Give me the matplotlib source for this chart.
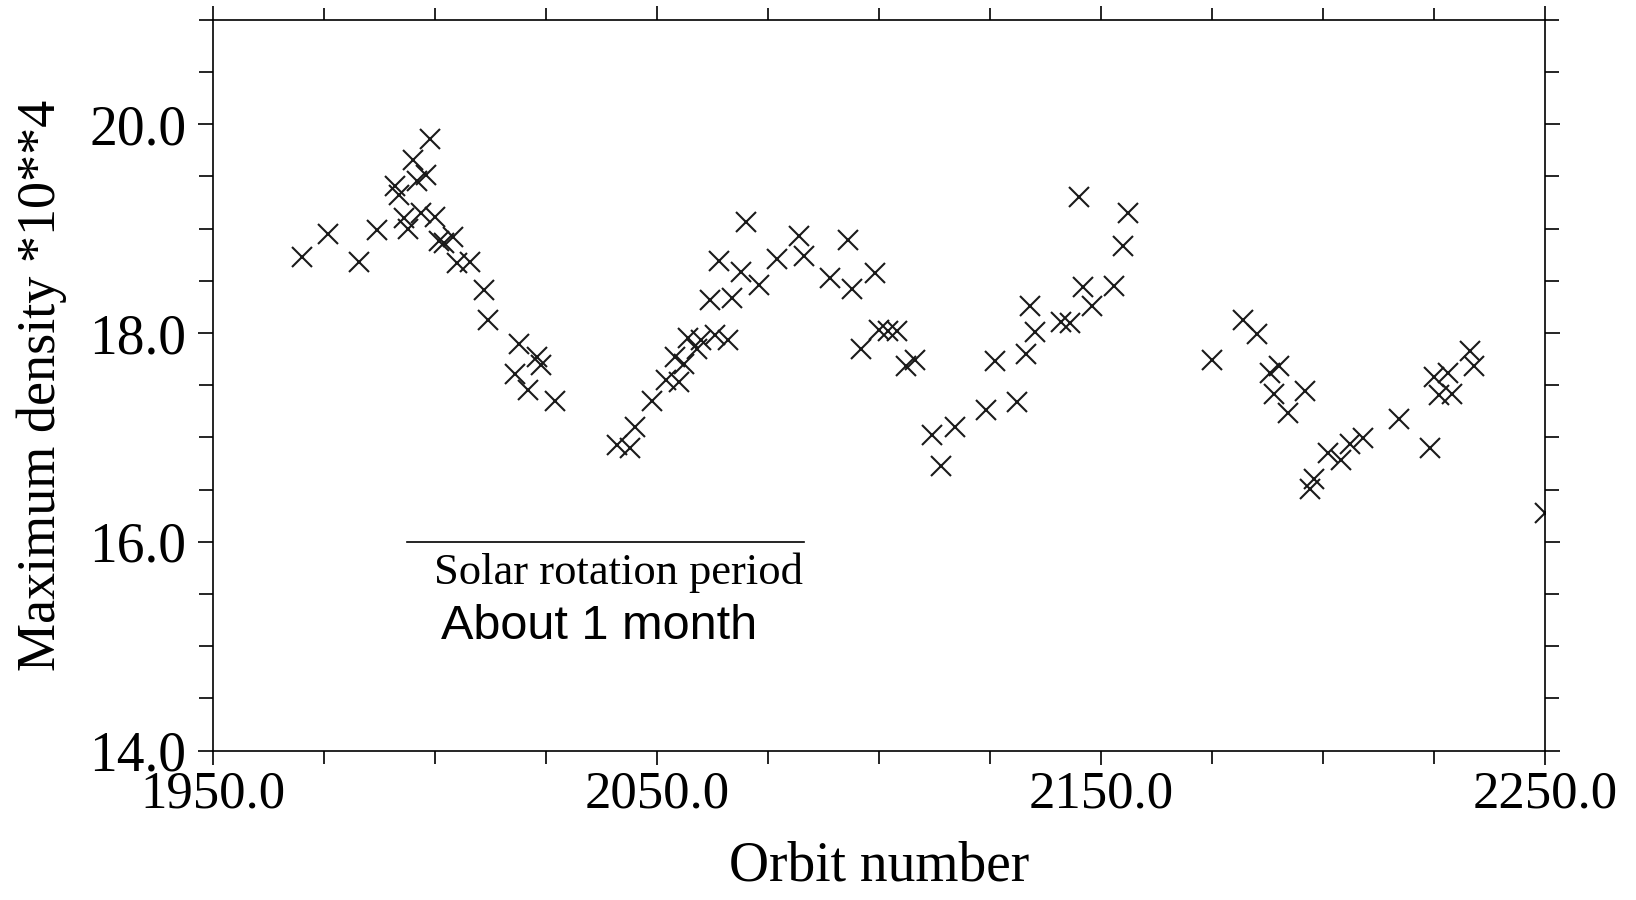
import matplotlib
matplotlib.use("Agg")
import matplotlib.pyplot as plt
from matplotlib.ticker import FixedLocator, MultipleLocator, FormatStrFormatter

# orbit numbers and maximum density (*10**4)
orbit = [1970, 1976, 1983, 1987, 1991, 1992, 1993, 1994, 1995, 1996, 1997, 1998,
         1999, 2000, 2001, 2002, 2004, 2005, 2008, 2011, 2012, 2018, 2019, 2021,
         2023, 2024, 2027,
         2041, 2044, 2045, 2049, 2052, 2054, 2055, 2056, 2057, 2059, 2060, 2062,
         2063, 2064, 2066, 2067, 2069, 2070, 2073, 2077, 2082, 2083, 2089, 2093,
         2094, 2096, 2099, 2100, 2102, 2104, 2106, 2108,
         2112, 2114, 2117, 2124, 2126, 2131, 2133, 2134, 2135, 2141, 2143, 2145,
         2146, 2148, 2153, 2155, 2156,
         2175, 2182, 2185, 2188, 2189, 2190, 2192, 2196, 2197, 2198, 2201, 2204,
         2206, 2209, 2217, 2224, 2225, 2226, 2228, 2229, 2233, 2234, 2250]
density = [18.73, 18.95, 18.68, 18.99, 19.41, 19.32, 19.10, 19.00, 19.66, 19.46, 19.15, 19.51,
           19.86, 19.11, 18.88, 18.86, 18.92, 18.67, 18.68, 18.41, 18.12, 17.61, 17.89, 17.45,
           17.77, 17.69, 17.35,
           16.93, 16.90, 17.10, 17.35, 17.55, 17.77, 17.53, 17.70, 17.95, 17.85, 17.93, 18.32,
           17.98, 18.69, 17.93, 18.34, 18.58, 19.06, 18.46, 18.71, 18.93, 18.74, 18.53, 18.89,
           18.42, 17.85, 18.57, 18.03, 18.02, 18.02, 17.68, 17.74,
           17.02, 16.73, 17.10, 17.26, 17.73, 17.34, 17.80, 18.26, 18.01, 18.11, 18.10, 19.30,
           18.44, 18.26, 18.45, 18.83, 19.15,
           17.74, 18.12, 17.99, 17.62, 17.42, 17.68, 17.23, 17.44, 16.51, 16.60, 16.85, 16.78,
           16.94, 16.99, 17.18, 16.90, 17.58, 17.41, 17.62, 17.42, 17.83, 17.68, 16.28]

x_labelled = [1950, 2050, 2150, 2250]
y_labelled = [14.0, 16.0, 18.0, 20.0]

# solar rotation bar (orbit range) drawn at density 16.0
rotation_span = [1993.7, 2083.0]
rotation_level = [16.0, 16.0]

serif = ["Liberation Serif", "DejaVu Serif"]

fig = plt.figure(figsize=(16.36, 9), dpi=100)
ax = fig.add_axes([0.130, 0.166, 0.8146, 0.812])

ax.plot(orbit, density, linestyle="none", marker="x", markersize=14,
        markeredgewidth=1.5, color="#1a1a1a")

ax.plot(rotation_span, rotation_level, color="black", linewidth=1.2)
ax.text(2041.3, 15.70, "Solar rotation period", family=serif, fontsize=32,
        ha="center", va="center")
ax.text(2037.0, 15.19, "About 1 month", family=["Liberation Sans", "DejaVu Sans"],
        fontsize=35, ha="center", va="center")

ax.set_xlim(1950, 2250)
ax.set_ylim(14, 21)
ax.xaxis.set_major_locator(FixedLocator(x_labelled))
ax.xaxis.set_minor_locator(MultipleLocator(25))
ax.yaxis.set_major_locator(FixedLocator(y_labelled))
ax.yaxis.set_minor_locator(MultipleLocator(0.5))
ax.xaxis.set_major_formatter(FormatStrFormatter("%.1f"))
ax.yaxis.set_major_formatter(FormatStrFormatter("%.1f"))

ax.tick_params(which="both", direction="out", top=True, right=True,
               labeltop=False, labelright=False, width=1.2)
ax.tick_params(axis="y", which="major", length=11, pad=8, labelsize=40)
ax.tick_params(axis="y", which="minor", length=10)
ax.tick_params(axis="x", which="major", length=10, pad=4, labelsize=38)
ax.tick_params(axis="x", which="minor", length=9)

for lab in ax.get_xticklabels() + ax.get_yticklabels():
    lab.set_family(serif)

for sp in ax.spines.values():
    sp.set_linewidth(1.2)

ax.set_xlabel("Orbit number", family=serif, fontsize=40, labelpad=16)
ax.set_ylabel("Maximum density *10**4", family=serif, fontsize=39, labelpad=16)

fig.savefig("out.png", dpi=100)
